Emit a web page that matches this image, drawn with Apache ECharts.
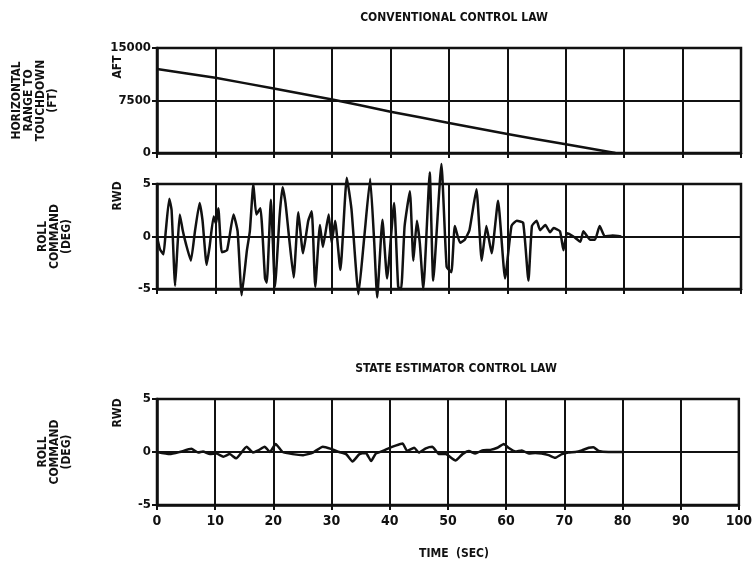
<!DOCTYPE html>
<html>
<head>
<meta charset="utf-8">
<script src="https://cdn.jsdelivr.net/npm/echarts@6/dist/echarts.min.js"></script>
<style>
  html, body { margin: 0; padding: 0; background: #fff; }
  #chart { width: 755px; height: 568px; }
</style>
</head>
<body>
<div id="chart"></div>
<script>
// time ticks (sec)
const timeTicks = [0, 10, 20, 30, 40, 50, 60, 70, 80, 90, 100];

// horizontal range to touchdown (ft), conventional law
const rangeTime = [0, 10, 20, 30, 40, 50, 60, 70, 78.5];
const rangeFt = [12000, 10750, 9200, 7650, 5900, 4300, 2700, 1250, 0];

// roll command (deg), conventional law
const convTime = [0, 0.5, 1.1, 1.5, 2.1, 2.5, 3.1, 3.5, 3.9, 4.4, 5.0, 5.8, 6.5, 7.3, 7.8, 8.5, 9.0, 9.7, 10.1, 10.5,
  11.1, 12.0, 13.1, 13.8, 14.5, 15.4, 15.9, 16.5, 17.0, 17.7, 18.5, 18.8, 19.5, 20.2, 21.0, 21.5, 22.0, 22.6, 23.4, 24.2,
  25.0, 25.9, 26.5, 27.1, 27.9, 28.4, 29.4, 29.9, 30.5, 31.4, 32.5, 33.3, 34.5, 35.5, 36.5, 37.2, 37.7, 38.6, 39.4, 40.6,
  41.3, 41.8, 42.4, 43.3, 43.9, 44.5, 45.0, 45.6, 46.7, 47.3, 48.7, 49.6, 50.4, 51.0, 51.9, 52.7, 53.5, 54.7, 55.6, 56.4,
  57.3, 58.4, 59.6, 60.7, 61.6, 62.7, 63.6, 64.2, 65.0, 65.6, 66.5, 67.3, 67.9, 69.0, 69.6, 70.2, 71.3, 72.5, 73.0, 74.2,
  75.0, 75.8, 76.7, 78.0, 79.5];
const convRoll = [0, -1.2, -1.7, 0.5, 3.6, 2.5, -4.7, -1, 2.1, 0.6, -0.8, -2.3, 0.5, 3.2, 1.5, -2.7, -1, 1.9, 1.2, 2.7,
  -1.5, -1.3, 2.1, 0.5, -5.6, -1.3, 0.5, 5.0, 2.1, 2.7, -4.0, -4.4, 3.5, -4.8, 2, 4.7, 3.2, 0, -3.9, 2.3,
  -1.6, 1.5, 2.4, -4.8, 1.1, -1.0, 2.1, -0.6, 1.5, -3.2, 5.6, 2.6, -5.5, 0, 5.5, -0.6, -5.8, 1.6, -4.0, 3.2,
  -4.8, -5, 1, 4.3, -2.3, 1.5, -0.6, -5, 6.1, -4.2, 6.9, -2.9, -3.4, 1, -0.6, -0.3, 0.6, 4.5, -2.3, 1,
  -1.6, 3.4, -4, 1, 1.5, 1.3, -4.2, 1, 1.5, 0.6, 1.1, 0.4, 0.8, 0.5, -1.3, 0.3, 0, -0.5, 0.5, -0.3,
  -0.3, 1, 0, 0.1, 0];

// roll command (deg), state estimator law
const estTime = [0, 2.2, 3.9, 5.9, 7.1, 7.9, 9.1, 10.2, 11.4, 12.5, 13.6, 15.4, 16.5, 17.4, 18.5, 19.4, 20.4, 21.6, 23.3, 25.1,
  26.8, 28.5, 29.9, 31.3, 32.5, 33.6, 34.8, 35.9, 36.8, 37.6, 38.8, 39.6, 41.0, 42.2, 43.0, 44.2, 45.0, 46.2, 47.3, 48.5,
  49.6, 51.3, 52.5, 53.6, 54.7, 55.9, 57.3, 58.5, 59.6, 60.4, 61.6, 62.7, 63.9, 65.0, 66.1, 67.3, 68.4, 69.6, 70.7, 71.9,
  73.0, 74.2, 75.0, 75.9, 77.6, 80];
const estRoll = [0, -0.2, 0, 0.3, -0.05, 0.05, -0.2, -0.15, -0.45, -0.2, -0.6, 0.5, -0.05, 0.15, 0.5, 0, 0.75, 0, -0.2, -0.3,
  -0.05, 0.5, 0.3, 0, -0.2, -0.9, -0.2, -0.1, -0.85, -0.15, 0.1, 0.3, 0.6, 0.8, 0.1, 0.4, -0.05, 0.35, 0.5, -0.2,
  -0.2, -0.8, -0.2, 0.1, -0.15, 0.15, 0.2, 0.4, 0.75, 0.4, 0.05, 0.15, -0.15, -0.1, -0.15, -0.3, -0.55, -0.2, -0.05, 0,
  0.15, 0.4, 0.45, 0.1, 0, 0];

const FONT = '"Liberation Sans Narrow", "DejaVu Sans Condensed", sans-serif';
const INK = '#111';

const zip = (xs, ys) => xs.map((x, i) => [x, ys[i]]);

const chart = echarts.init(document.getElementById('chart'));

const grids = [
  { left: 157, right: 14, top: 48, height: 105 },
  { left: 157, right: 14, top: 184, height: 105 },
  { left: 157, right: 14, top: 399, height: 106 }
];

const makeX = (idx, showLabels) => ({
  type: 'value', gridIndex: idx, min: timeTicks[0], max: timeTicks[timeTicks.length - 1], interval: 10,
  axisLine: { show: true, onZero: false, lineStyle: { color: INK, width: 2.5 } },
  axisTick: { show: true, length: 5, lineStyle: { color: INK, width: 2 } },
  axisLabel: {
    show: showLabels, margin: 9, color: INK, fontFamily: FONT, fontWeight: 'bold', fontSize: 14
  },
  splitLine: { show: true, lineStyle: { color: INK, width: 2 } }
});

const makeY = (idx, min, max, interval, name, gap) => ({
  type: 'value', gridIndex: idx, min: min, max: max, interval: interval,
  name: name, nameLocation: 'middle', nameRotate: 90, nameGap: gap,
  nameTextStyle: { color: INK, fontFamily: FONT, fontWeight: 'bold', fontSize: 12, lineHeight: 12 },
  axisLine: { show: true, lineStyle: { color: INK, width: 2.5 } },
  axisTick: { show: true, length: 5, lineStyle: { color: INK, width: 2 } },
  axisLabel: {
    margin: 6, color: INK, fontFamily: FONT, fontWeight: 'bold', fontSize: 13,
    formatter: (v) => String(v)
  },
  splitLine: { show: true, lineStyle: { color: INK, width: 2 } }
});

const lineSeries = (idx, data) => ({
  type: 'line', xAxisIndex: idx, yAxisIndex: idx, data: data,
  showSymbol: false, clip: false, smooth: 0.15,
  lineStyle: { color: INK, width: 2.5 }
});

const sideText = (x, y, text) => ({
  type: 'text', x: x, y: y, rotation: Math.PI / 2,
  style: { text: text, fill: INK, font: 'bold 12px ' + FONT, align: 'center', verticalAlign: 'middle' }
});

const titleStyle = { color: INK, fontFamily: FONT, fontWeight: 'bold', fontSize: 12 };

chart.setOption({
  backgroundColor: '#fff',
  animation: false,
  title: [
    { text: 'CONVENTIONAL CONTROL LAW', left: 449, top: 7, textAlign: 'center', textStyle: titleStyle },
    { text: 'STATE ESTIMATOR CONTROL LAW', left: 451, top: 358, textAlign: 'center', textStyle: titleStyle },
    { text: 'TIME  (SEC)', left: 449, top: 543, textAlign: 'center', textStyle: titleStyle }
  ],
  grid: grids.map((g) => Object.assign({ show: true, borderColor: INK, borderWidth: 2.5 }, g)),
  xAxis: [makeX(0, false), makeX(1, false), makeX(2, true)],
  yAxis: [
    makeY(0, 0, 15000, 7500, 'HORIZONTAL\nRANGE TO\nTOUCHDOWN\n(FT)', 98),
    makeY(1, -5, 5, 5, 'ROLL\nCOMMAND\n(DEG)', 84),
    makeY(2, -5, 5, 5, 'ROLL\nCOMMAND\n(DEG)', 84)
  ],
  series: [
    lineSeries(0, zip(rangeTime, rangeFt)),
    lineSeries(1, zip(convTime, convRoll)),
    lineSeries(2, zip(estTime, estRoll))
  ],
  graphic: [
    sideText(118, 67, 'AFT'),
    sideText(118, 196, 'RWD'),
    sideText(118, 413, 'RWD')
  ]
});
</script>
</body>
</html>
